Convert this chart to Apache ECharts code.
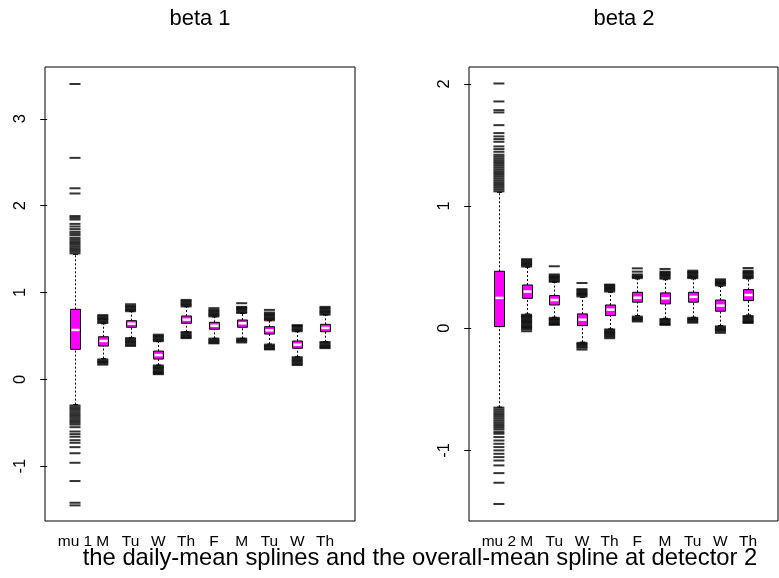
<!DOCTYPE html>
<html>
<head>
<meta charset="utf-8">
<script src="https://cdn.jsdelivr.net/npm/echarts@6/dist/echarts.min.js"></script>
<style>
  html, body { margin: 0; padding: 0; background: #fff; }
  #chart { width: 779px; height: 578px; }
</style>
</head>
<body>
<div id="chart"></div>
<script>
  // categories (same labels under both panels, first one differs)
  const cats1 = ['mu 1', 'M', 'Tu', 'W', 'Th', 'F', 'M', 'Tu', 'W', 'Th']
  const cats2 = ['mu 2', 'M', 'Tu', 'W', 'Th', 'F', 'M', 'Tu', 'W', 'Th']
  const ticks1 = [-1, 0, 1, 2, 3]
  const ticks2 = [-1, 0, 1, 2]

  // [lower whisker, Q1, median, Q3, upper whisker]
  const stats1 = [
    [-0.29, 0.346, 0.569, 0.807, 1.44],
    [0.24, 0.384, 0.442, 0.491, 0.64],
    [0.48, 0.600, 0.641, 0.676, 0.78],
    [0.165, 0.234, 0.280, 0.326, 0.434],
    [0.549, 0.646, 0.688, 0.730, 0.837],
    [0.473, 0.577, 0.618, 0.657, 0.72],
    [0.473, 0.600, 0.646, 0.684, 0.761],
    [0.407, 0.522, 0.565, 0.607, 0.676],
    [0.261, 0.358, 0.400, 0.442, 0.549],
    [0.434, 0.549, 0.592, 0.634, 0.742]
  ]
  const stats2 = [
    [-0.646, 0.013, 0.248, 0.466, 1.112],
    [0.117, 0.245, 0.300, 0.354, 0.499],
    [0.09, 0.190, 0.231, 0.267, 0.376],
    [-0.114, 0.021, 0.070, 0.117, 0.253],
    [-0.006, 0.103, 0.152, 0.190, 0.294],
    [0.103, 0.213, 0.250, 0.294, 0.403],
    [0.082, 0.199, 0.245, 0.289, 0.397],
    [0.09, 0.213, 0.256, 0.294, 0.403],
    [0.021, 0.139, 0.185, 0.231, 0.343],
    [0.109, 0.226, 0.272, 0.316, 0.403]
  ]

  // outliers per box
  const outliers1 = [
    [1.45, 1.47, 1.49, 1.51, 1.53, 1.55, 1.57, 1.59, 1.61, 1.63, 1.66, 1.68, 1.70, 1.73, 1.76, 1.79, 1.84, 1.86, 1.88, 2.14, 2.20, 2.55, 3.40,
     -0.30, -0.32, -0.34, -0.36, -0.38, -0.40, -0.42, -0.44, -0.46, -0.48, -0.50, -0.52, -0.55, -0.60, -0.63, -0.66, -0.70, -0.73, -0.78, -0.85, -0.96, -1.17, -1.42, -1.45],
    [0.65, 0.665, 0.68, 0.695, 0.71, 0.725, 0.74, 0.23, 0.215, 0.20, 0.185, 0.17],
    [0.785, 0.80, 0.815, 0.83, 0.845, 0.865, 0.475, 0.46, 0.445, 0.43, 0.415, 0.40, 0.385],
    [0.44, 0.455, 0.47, 0.485, 0.50, 0.515, 0.16, 0.145, 0.13, 0.115, 0.10, 0.085, 0.07, 0.06],
    [0.84, 0.855, 0.87, 0.885, 0.90, 0.915, 0.545, 0.53, 0.515, 0.50, 0.485, 0.475],
    [0.725, 0.74, 0.755, 0.77, 0.785, 0.80, 0.82, 0.47, 0.455, 0.44, 0.425, 0.415],
    [0.765, 0.78, 0.795, 0.81, 0.825, 0.835, 0.877, 0.47, 0.455, 0.44, 0.425],
    [0.68, 0.695, 0.71, 0.725, 0.74, 0.755, 0.77, 0.80, 0.40, 0.385, 0.37, 0.355, 0.345],
    [0.555, 0.57, 0.585, 0.60, 0.615, 0.625, 0.255, 0.24, 0.225, 0.21, 0.195, 0.18, 0.165],
    [0.745, 0.76, 0.775, 0.79, 0.805, 0.82, 0.835, 0.43, 0.415, 0.40, 0.385, 0.37, 0.36]
  ]
  const outliers2 = [
    [1.12, 1.135, 1.15, 1.165, 1.18, 1.195, 1.21, 1.225, 1.24, 1.255, 1.27, 1.285, 1.30, 1.315, 1.33, 1.345, 1.36, 1.375, 1.39, 1.405, 1.42, 1.444,
     1.466, 1.488, 1.526, 1.548, 1.57, 1.597, 1.662, 1.766, 1.785, 1.856, 2.003,
     -0.65, -0.665, -0.68, -0.695, -0.71, -0.725, -0.74, -0.755, -0.77, -0.785, -0.80, -0.815, -0.83, -0.85,
     -0.864, -0.891, -0.919, -0.946, -0.973, -1.0, -1.028, -1.055, -1.083, -1.123, -1.186, -1.265, -1.439],
    [0.505, 0.515, 0.525, 0.535, 0.545, 0.555, 0.565, 0.11, 0.10, 0.09, 0.08, 0.07, 0.06, 0.05, 0.04, 0.03, 0.02, 0.01, 0.0, -0.01, -0.025],
    [0.38, 0.39, 0.40, 0.41, 0.42, 0.43, 0.44, 0.507, 0.085, 0.075, 0.065, 0.055, 0.045, 0.035, 0.027],
    [0.26, 0.27, 0.28, 0.29, 0.30, 0.31, 0.32, 0.37, -0.12, -0.13, -0.14, -0.15, -0.16, -0.175],
    [0.30, 0.31, 0.32, 0.33, 0.34, 0.35, 0.357, -0.01, -0.02, -0.03, -0.04, -0.05, -0.06, -0.07, -0.082],
    [0.41, 0.42, 0.43, 0.44, 0.463, 0.49, 0.095, 0.085, 0.075, 0.065, 0.055],
    [0.405, 0.415, 0.425, 0.435, 0.445, 0.455, 0.463, 0.485, 0.075, 0.065, 0.055, 0.045, 0.035, 0.027],
    [0.41, 0.42, 0.43, 0.44, 0.45, 0.46, 0.471, 0.085, 0.075, 0.065, 0.055, 0.045],
    [0.35, 0.36, 0.37, 0.38, 0.39, 0.40, 0.015, 0.005, -0.005, -0.015, -0.025, -0.038],
    [0.41, 0.42, 0.43, 0.44, 0.45, 0.46, 0.471, 0.493, 0.10, 0.09, 0.08, 0.07, 0.06, 0.05, 0.043]
  ]

  const FONT = "'Liberation Sans', Arial, Helvetica, sans-serif"

  function boxData(stats) {
    return stats.map((s, i) => [i + 1].concat(s))
  }
  function outlierData(list) {
    const out = []
    list.forEach((vals, i) => vals.forEach(v => out.push([i + 1, v])))
    return out
  }

  // R style box: dotted whiskers, short staples, magenta box, white median
  function renderBox(params, api) {
    const x = api.value(0)
    const lo = api.coord([x, api.value(1)])
    const q1 = api.coord([x, api.value(2)])
    const md = api.coord([x, api.value(3)])
    const q3 = api.coord([x, api.value(4)])
    const hi = api.coord([x, api.value(5)])
    const cx = Math.round(lo[0]) + 0.5
    const hw = 5
    const cap = 2.5
    const dash = {stroke: '#000', lineWidth: 1, lineDash: [2, 2]}
    const solid = {stroke: '#000', lineWidth: 1}
    return {
      type: 'group',
      children: [
        {type: 'line', shape: {x1: cx, y1: lo[1], x2: cx, y2: q1[1]}, style: dash},
        {type: 'line', shape: {x1: cx, y1: q3[1], x2: cx, y2: hi[1]}, style: dash},
        {type: 'line', shape: {x1: cx - cap, y1: lo[1], x2: cx + cap, y2: lo[1]}, style: solid},
        {type: 'line', shape: {x1: cx - cap, y1: hi[1], x2: cx + cap, y2: hi[1]}, style: solid},
        {type: 'rect', shape: {x: cx - hw, y: q3[1], width: hw * 2, height: q1[1] - q3[1]},
          style: {fill: '#ff00ff', stroke: '#000', lineWidth: 1}},
        {type: 'line', shape: {x1: cx - hw + 1, y1: md[1], x2: cx + hw - 1, y2: md[1]},
          style: {stroke: '#fff', lineWidth: 2.5}}
      ]
    }
  }

  function xAxisFor(gridIndex, cats) {
    return {
      type: 'value', gridIndex: gridIndex, min: -0.08, max: 11.08,
      axisLine: {show: false}, axisTick: {show: false}, splitLine: {show: false},
      axisLabel: {
        customValues: [1, 2, 3, 4, 5, 6, 7, 8, 9, 10],
        formatter: v => cats[Math.round(v) - 1],
        color: '#000', fontSize: 15.5, fontFamily: FONT, margin: 13
      }
    }
  }
  function yAxisFor(gridIndex, min, max, ticks) {
    return {
      type: 'value', gridIndex: gridIndex, min: min, max: max,
      axisLine: {show: false}, splitLine: {show: false},
      axisTick: {show: true, customValues: ticks, length: 7, lineStyle: {color: '#000'}},
      axisLabel: {
        customValues: ticks, rotate: 90, margin: 16,
        color: '#000', fontSize: 16.5, fontFamily: FONT
      }
    }
  }

  const chart = echarts.init(document.getElementById('chart'), null, {renderer: 'canvas'})
  chart.setOption({
    animation: false,
    backgroundColor: '#fff',
    grid: [
      {left: 45, top: 67, width: 310, height: 454, show: true, borderColor: '#000', borderWidth: 1},
      {left: 469, top: 67, width: 309, height: 454, show: true, borderColor: '#000', borderWidth: 1}
    ],
    xAxis: [xAxisFor(0, cats1), xAxisFor(1, cats2)],
    yAxis: [yAxisFor(0, -1.63, 3.596, ticks1), yAxisFor(1, -1.578, 2.138, ticks2)],
    graphic: [
      {type: 'text', x: 200, y: 19, style: {text: 'beta 1', font: '22px ' + FONT, fill: '#000', align: 'center', verticalAlign: 'middle'}},
      {type: 'text', x: 624, y: 19, style: {text: 'beta 2', font: '22px ' + FONT, fill: '#000', align: 'center', verticalAlign: 'middle'}},
      {type: 'text', x: 420, y: 558, style: {text: 'the daily-mean splines and the overall-mean spline at detector 2',
        font: '23.8px ' + FONT, fill: '#000', align: 'center', verticalAlign: 'middle'}}
    ],
    series: [
      {type: 'custom', xAxisIndex: 0, yAxisIndex: 0, renderItem: renderBox,
        encode: {x: 0, y: [1, 2, 3, 4, 5]}, data: boxData(stats1), z: 2},
      {type: 'custom', xAxisIndex: 1, yAxisIndex: 1, renderItem: renderBox,
        encode: {x: 0, y: [1, 2, 3, 4, 5]}, data: boxData(stats2), z: 2},
      {type: 'scatter', xAxisIndex: 0, yAxisIndex: 0, symbol: 'rect', symbolSize: [11, 2],
        itemStyle: {color: '#000'}, data: outlierData(outliers1), z: 3},
      {type: 'scatter', xAxisIndex: 1, yAxisIndex: 1, symbol: 'rect', symbolSize: [11, 2],
        itemStyle: {color: '#000'}, data: outlierData(outliers2), z: 3}
    ]
  })
</script>
</body>
</html>
